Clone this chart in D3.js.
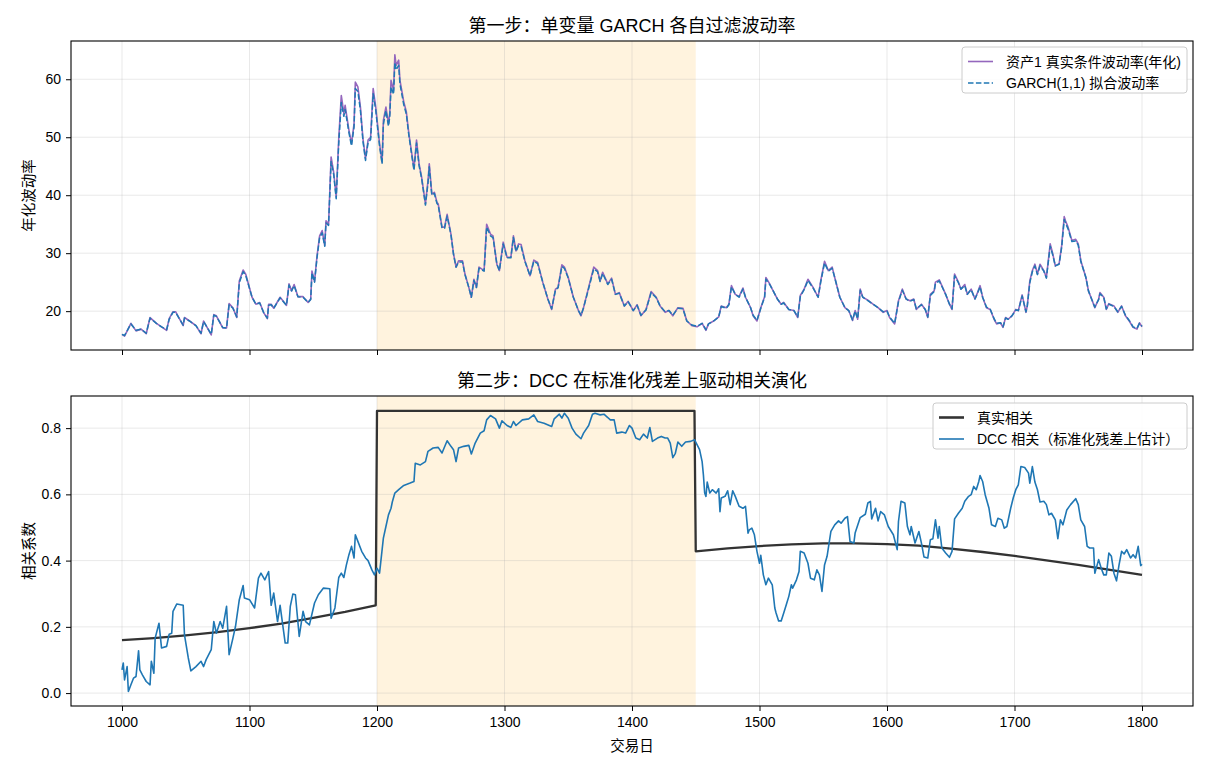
<html>
<head>
<meta charset="utf-8">
<script src="https://d3js.org/d3.v7.min.js"></script>
<style>
  body { margin: 0; background: #fff; }
  svg text { font-family: "Liberation Sans", "Noto Sans CJK SC", sans-serif; fill: #000; }
</style>
</head>
<body>
<svg id="chart" width="1210" height="770"></svg>
<script>
// ---- data ----
const volDays = [
  1000,1002,1007,1011,1015,1019,1022,1027,1031,1035,
  1037,1040,1042,1048,1049,1053,1058,1062,1064,1070,
  1072,1074,1079,1082,1084,1087,1090,1092,1095,1097,
  1102,1105,1108,1111,1114,1115,1117,1119,1124,1129,
  1131,1133,1135,1138,1142,1146,1148,1149,1151,1153,
  1155,1157,1159,1160,1162,1164,1166,1168,1170,1172,
  1174,1175,1178,1180,1182,1183,1185,1187,1189,1191,
  1193,1195,1197,1199,1202,1204,1205,1207,1209,1210,
  1211,1213,1214,1215,1217,1218,1221,1223,1225,1229,
  1231,1233,1235,1238,1240,1241,1243,1245,1247,1248,
  1251,1253,1255,1258,1260,1262,1264,1267,1269,1272,
  1274,1276,1278,1280,1284,1286,1289,1291,1294,1296,
  1299,1302,1305,1307,1309,1311,1313,1316,1320,1323,
  1326,1330,1334,1337,1340,1342,1345,1347,1350,1354,
  1358,1360,1362,1366,1370,1373,1375,1377,1381,1384,
  1387,1390,1394,1397,1401,1404,1407,1411,1415,1419,
  1422,1426,1429,1432,1436,1440,1443,1447,1451,1455,
  1458,1460,1464,1468,1470,1474,1476,1478,1481,1484,
  1487,1489,1493,1495,1498,1501,1504,1505,1508,1510,
  1514,1517,1519,1523,1527,1530,1532,1535,1538,1542,
  1546,1548,1551,1554,1557,1559,1563,1567,1570,1573,
  1575,1577,1579,1581,1585,1589,1593,1597,1600,1602,
  1606,1609,1612,1615,1618,1621,1623,1627,1630,1632,
  1634,1637,1638,1641,1643,1646,1649,1651,1653,1656,
  1658,1661,1663,1666,1669,1671,1673,1675,1678,1681,
  1684,1686,1689,1691,1693,1695,1698,1701,1703,1706,
  1709,1710,1712,1714,1716,1718,1720,1723,1725,1728,
  1730,1732,1735,1737,1739,1740,1742,1745,1748,1750,
  1752,1756,1758,1761,1763,1766,1767,1770,1772,1774,
  1778,1781,1784,1787,1790,1793,1796,1798,1800
];
const volTrue = [
  16.0,15.7,17.9,16.6,16.9,16.1,18.9,17.9,17.3,16.7,
  18.7,19.9,19.9,17.5,18.9,18.3,17.5,16.1,18.3,15.9,
  19.4,19.2,17.1,17.1,21.3,20.6,18.9,25.2,27.1,26.4,
  22.4,21.2,21.5,19.8,18.7,21.2,21.2,20.5,22.4,21.0,
  24.7,23.5,24.6,22.5,22.5,21.5,22.1,26.9,25.1,29.6,
  33.0,33.9,31.3,35.6,35.0,46.6,44.0,39.7,49.8,57.2,
  54.1,55.5,51.2,48.9,52.3,59.5,58.7,55.2,49.7,46.3,
  49.5,50.0,58.4,55.2,48.9,45.7,52.9,55.2,52.3,54.1,
  59.8,58.1,64.2,62.4,63.3,59.8,56.1,54.4,50.6,44.6,
  49.5,45.4,43.1,38.5,42.5,45.4,40.2,40.5,38.8,38.5,
  34.5,34.5,36.7,33.3,29.9,27.6,28.7,28.7,26.4,24.1,
  22.4,25.5,24.1,27.6,27.0,35.0,33.3,33.0,28.1,27.0,
  31.9,29.3,29.3,33.0,30.4,31.6,31.5,28.7,26.1,28.8,
  28.4,25.0,22.1,20.3,23.8,24.1,28.0,27.6,25.8,22.4,
  20.1,19.2,20.6,24.1,27.6,27.0,25.2,26.7,24.7,25.7,
  22.9,23.2,20.9,21.7,20.1,21.1,19.2,20.3,23.4,22.4,
  20.9,19.8,20.1,19.2,20.6,20.5,18.3,17.5,17.3,17.9,
  16.7,17.8,18.3,19.0,20.9,20.6,21.2,24.4,22.9,22.5,
  24.0,22.4,20.6,19.2,18.3,20.6,22.5,25.8,24.7,23.8,
  22.1,21.2,21.5,20.3,20.1,18.9,22.7,23.8,25.5,24.1,
  22.4,25.2,28.6,27.0,27.6,25.8,22.4,20.6,20.1,18.4,
  20.1,18.6,23.8,22.4,21.9,21.2,20.6,19.8,20.1,18.9,
  17.8,21.8,23.8,22.1,21.8,22.1,20.3,21.2,20.3,18.9,
  22.9,23.5,25.0,25.4,24.4,22.9,21.2,20.3,26.4,25.0,
  23.8,24.6,22.9,23.8,22.1,23.2,24.4,22.4,20.6,20.3,
  18.6,17.8,18.0,17.2,18.9,18.6,19.2,20.3,20.1,22.8,
  19.8,20.9,25.2,27.0,28.1,26.4,28.1,27.0,25.8,31.6,
  29.9,27.8,28.2,31.3,36.3,35.6,34.5,32.2,32.4,31.6,
  28.7,25.8,23.5,21.8,20.6,22.1,23.2,22.4,20.3,21.3,
  20.9,19.8,20.9,19.2,18.3,17.2,16.9,18.0,17.3
];
const volGarch = [
  16.0,15.8,17.8,16.7,16.9,16.2,18.8,17.9,17.3,16.8,
  18.6,19.8,19.8,17.6,18.8,18.3,17.5,16.2,18.2,16.0,
  19.3,19.1,17.2,17.1,21.1,20.5,19.0,24.9,26.8,26.2,
  22.4,21.2,21.4,19.8,18.8,21.0,21.1,20.5,22.3,21.0,
  24.5,23.5,24.4,22.5,22.4,21.5,22.0,26.6,25.0,29.3,
  32.7,33.5,31.2,35.2,34.8,45.8,43.6,39.4,49.0,56.0,
  53.6,54.8,50.8,48.5,51.8,58.4,57.9,54.6,49.3,46.0,
  49.1,49.6,57.5,54.7,48.5,45.4,52.2,54.6,51.9,53.5,
  58.7,57.4,62.9,61.6,62.4,59.2,55.6,54.0,50.3,44.3,
  49.0,45.1,42.9,38.3,42.1,44.9,40.0,40.3,38.6,38.3,
  34.3,34.3,36.4,33.2,29.8,27.6,28.5,28.5,26.3,24.1,
  22.4,25.3,24.1,27.4,26.9,34.5,33.0,32.7,28.1,27.0,
  31.6,29.2,29.2,32.7,30.3,31.3,31.2,28.6,26.1,28.6,
  28.2,25.0,22.1,20.4,23.7,24.0,27.7,27.4,25.7,22.4,
  20.1,19.3,20.6,23.9,27.3,26.8,25.1,26.5,24.6,25.5,
  22.9,23.1,20.9,21.6,20.1,21.0,19.3,20.2,23.2,22.3,
  20.9,19.9,20.1,19.3,20.5,20.4,18.3,17.6,17.4,17.9,
  16.8,17.8,18.3,19.0,20.8,20.5,21.1,24.2,22.9,22.4,
  23.8,22.4,20.6,19.3,18.4,20.5,22.4,25.5,24.6,23.8,
  22.1,21.2,21.4,20.3,20.1,19.0,22.5,23.7,25.3,24.0,
  22.4,25.0,28.3,26.9,27.4,25.8,22.4,20.6,20.1,18.5,
  20.0,18.7,23.6,22.4,21.8,21.2,20.6,19.9,20.0,19.0,
  17.9,21.6,23.6,22.1,21.7,22.0,20.4,21.1,20.3,19.0,
  22.7,23.4,24.8,25.2,24.3,22.9,21.2,20.4,26.1,24.9,
  23.8,24.4,22.9,23.7,22.1,23.1,24.2,22.4,20.7,20.3,
  18.7,17.9,18.0,17.3,18.8,18.6,19.2,20.2,20.1,22.6,
  19.9,20.8,24.9,26.8,27.8,26.3,27.8,26.9,25.7,31.2,
  29.7,27.8,28.1,31.0,35.8,35.2,34.2,32.0,32.1,31.4,
  28.6,25.8,23.5,21.8,20.7,22.0,23.0,22.4,20.4,21.2,
  20.8,19.9,20.8,19.3,18.4,17.3,17.0,17.9,17.4
];

const dccDays = [
  1000,1001,1002,1004,1005,1007,1009,1011,1013,1014,
  1016,1019,1022,1023,1025,1026,1029,1031,1035,1037,
  1039,1040,1043,1048,1049,1052,1054,1058,1062,1064,
  1066,1070,1072,1074,1077,1079,1082,1084,1087,1089,
  1092,1095,1096,1100,1104,1107,1109,1112,1115,1117,
  1119,1122,1124,1128,1130,1132,1134,1136,1139,1142,
  1144,1147,1151,1154,1158,1163,1164,1167,1170,1172,
  1174,1176,1178,1180,1182,1183,1185,1188,1191,1193,
  1196,1198,1200,1202,1205,1207,1209,1211,1212,1214,
  1217,1221,1226,1229,1230,1234,1238,1240,1244,1248,
  1251,1255,1258,1260,1262,1264,1268,1272,1274,1277,
  1281,1284,1286,1289,1293,1296,1298,1302,1305,1307,
  1309,1314,1319,1323,1326,1331,1337,1339,1343,1345,
  1347,1350,1353,1356,1360,1362,1366,1369,1371,1375,
  1378,1381,1383,1386,1388,1392,1395,1398,1400,1403,
  1406,1409,1412,1414,1416,1420,1423,1426,1428,1430,
  1432,1434,1436,1439,1442,1446,1449,1451,1453,1455,
  1456,1457,1458,1459,1461,1463,1466,1468,1469,1470,
  1473,1475,1477,1479,1481,1484,1487,1489,1491,1492,
  1494,1496,1498,1500,1501,1503,1505,1507,1510,1512,
  1513,1515,1517,1519,1521,1523,1525,1526,1529,1531,
  1532,1535,1538,1540,1543,1545,1547,1549,1551,1553,
  1556,1559,1562,1564,1567,1569,1571,1574,1575,1579,
  1583,1585,1587,1588,1591,1593,1595,1598,1601,1605,
  1608,1609,1611,1614,1616,1618,1619,1622,1625,1627,
  1629,1632,1634,1636,1638,1640,1641,1643,1646,1649,
  1651,1653,1656,1659,1661,1664,1666,1668,1670,1672,
  1673,1675,1677,1680,1682,1685,1687,1690,1692,1694,
  1697,1699,1701,1703,1705,1708,1711,1712,1714,1716,
  1718,1720,1723,1725,1727,1729,1732,1734,1736,1738,
  1741,1744,1748,1750,1752,1755,1757,1759,1762,1763,
  1766,1768,1770,1772,1774,1776,1778,1780,1782,1784,
  1786,1788,1791,1793,1795,1797,1799,1800
];
const dccCorr = [
  0.070,0.091,0.040,0.080,0.005,0.025,0.045,0.050,0.128,0.070,
  0.055,0.035,0.025,0.096,0.060,0.166,0.211,0.136,0.141,0.178,
  0.181,0.247,0.269,0.265,0.176,0.106,0.067,0.080,0.096,0.080,
  0.101,0.131,0.216,0.181,0.216,0.196,0.262,0.116,0.166,0.201,
  0.282,0.325,0.287,0.282,0.257,0.347,0.362,0.342,0.367,0.265,
  0.302,0.216,0.265,0.151,0.151,0.262,0.299,0.297,0.171,0.247,
  0.216,0.206,0.272,0.297,0.317,0.315,0.226,0.257,0.349,0.362,
  0.349,0.387,0.418,0.443,0.408,0.478,0.458,0.428,0.408,0.400,
  0.372,0.357,0.377,0.362,0.468,0.503,0.538,0.558,0.577,0.604,
  0.614,0.627,0.634,0.639,0.694,0.689,0.699,0.730,0.740,0.742,
  0.725,0.762,0.745,0.735,0.699,0.740,0.745,0.748,0.722,0.755,
  0.785,0.792,0.825,0.838,0.828,0.800,0.822,0.808,0.802,0.820,
  0.808,0.825,0.828,0.840,0.820,0.815,0.805,0.828,0.842,0.830,
  0.845,0.830,0.800,0.782,0.768,0.785,0.808,0.842,0.845,0.840,
  0.842,0.832,0.825,0.825,0.785,0.788,0.785,0.808,0.800,0.770,
  0.765,0.782,0.770,0.802,0.760,0.770,0.775,0.770,0.770,0.755,
  0.711,0.724,0.758,0.745,0.758,0.760,0.765,0.750,0.735,0.699,
  0.659,0.604,0.594,0.637,0.604,0.614,0.604,0.617,0.548,0.589,
  0.594,0.611,0.569,0.611,0.594,0.564,0.558,0.564,0.483,0.493,
  0.498,0.478,0.428,0.392,0.416,0.357,0.327,0.347,0.327,0.257,
  0.242,0.218,0.218,0.242,0.267,0.292,0.327,0.317,0.342,0.367,
  0.428,0.423,0.392,0.347,0.342,0.372,0.357,0.307,0.387,0.413,
  0.488,0.508,0.520,0.513,0.528,0.533,0.458,0.453,0.483,0.530,
  0.540,0.574,0.579,0.526,0.558,0.520,0.548,0.538,0.503,0.478,
  0.433,0.518,0.579,0.574,0.503,0.478,0.503,0.453,0.488,0.453,
  0.411,0.408,0.463,0.466,0.523,0.468,0.503,0.438,0.423,0.410,
  0.428,0.526,0.543,0.558,0.579,0.594,0.599,0.624,0.614,0.639,
  0.657,0.639,0.599,0.558,0.508,0.503,0.528,0.523,0.498,0.503,
  0.558,0.589,0.614,0.629,0.684,0.681,0.664,0.634,0.684,0.637,
  0.614,0.577,0.579,0.569,0.538,0.543,0.523,0.466,0.523,0.508,
  0.553,0.569,0.587,0.569,0.523,0.503,0.443,0.438,0.438,0.362,
  0.403,0.377,0.357,0.357,0.423,0.413,0.362,0.339,0.387,0.428,
  0.420,0.433,0.408,0.418,0.408,0.443,0.385,0.389
];

const trueDays = [1000,1025,1050,1075,1100,1125,1150,1175,1199,1200,1449,1450,1475,1500,1525,1550,1575,1600,1625,1650,1675,1700,1725,1750,1775,1800];
const trueCorr = [0.160,0.166,0.174,0.184,0.196,0.210,0.227,0.245,0.265,0.852,0.852,0.428,0.437,0.444,0.449,0.452,0.452,0.450,0.445,0.436,0.426,0.414,0.401,0.387,0.372,0.357];

const crisis = [1200, 1450];
const xTicks = [1000,1100,1200,1300,1400,1500,1600,1700,1800];
const volTicks = [20,30,40,50,60];
const corrTicks = [0.0,0.2,0.4,0.6,0.8];

// ---- layout ----
const svg = d3.select("#chart");
const left = 71, right = 1193;
const x = d3.scaleLinear().domain([960, 1840]).range([left, right]);
const yTop = d3.scaleLinear().domain([13.3, 66.6]).range([350, 41]);
const yBot = d3.scaleLinear().domain([-0.039, 0.897]).range([706, 396]);

function panel(y, ticks, fmt, title, ylabel, showX) {
  const g = svg.append("g");
  const [y0, y1] = y.range();
  // crisis window shading
  g.append("rect")
    .attr("x", x(crisis[0])).attr("width", x(crisis[1]) - x(crisis[0]))
    .attr("y", y1).attr("height", y0 - y1)
    .attr("fill", "orange").attr("fill-opacity", 0.13);
  // grid
  g.selectAll("line.gx").data(xTicks).enter().append("line")
    .attr("x1", d => x(d)).attr("x2", d => x(d)).attr("y1", y1).attr("y2", y0)
    .attr("stroke", "#b0b0b0").attr("stroke-opacity", 0.35).attr("stroke-width", 0.8);
  g.selectAll("line.gy").data(ticks).enter().append("line")
    .attr("x1", left).attr("x2", right).attr("y1", d => y(d)).attr("y2", d => y(d))
    .attr("stroke", "#b0b0b0").attr("stroke-opacity", 0.35).attr("stroke-width", 0.8);
  // axes
  const ax = g.append("g").attr("transform", "translate(0," + y0 + ")")
    .call(d3.axisBottom(x).tickValues(xTicks).tickSize(5).tickPadding(6)
      .tickFormat(showX ? d3.format("d") : ""));
  const ay = g.append("g").attr("transform", "translate(" + left + ",0)")
    .call(d3.axisLeft(y).tickValues(ticks).tickSize(5).tickPadding(5).tickFormat(fmt));
  [ax, ay].forEach(a => {
    a.select(".domain").remove();
    a.selectAll("line").attr("stroke", "#000").attr("stroke-width", 1);
    a.selectAll("text").attr("font-size", 14).style("font-family", null);
  });
  g.append("text").attr("x", (left + right) / 2).attr("y", y1 - 9)
    .attr("text-anchor", "middle").attr("font-size", 18).text(title);
  g.append("text")
    .attr("transform", "translate(34," + (y0 + y1) / 2 + ") rotate(-90)")
    .attr("text-anchor", "middle").attr("font-size", 14.5).text(ylabel);
  return g;
}

function frame(y) {
  const [y0, y1] = y.range();
  svg.append("rect").attr("x", left).attr("y", y1)
    .attr("width", right - left).attr("height", y0 - y1)
    .attr("fill", "none").attr("stroke", "#000").attr("stroke-width", 1.1);
}

function legend(xr, ytop, w, items) {
  const g = svg.append("g");
  g.append("rect").attr("x", xr - w).attr("y", ytop).attr("width", w).attr("height", 46)
    .attr("rx", 3).attr("fill", "#fff").attr("fill-opacity", 0.85)
    .attr("stroke", "#cccccc").attr("stroke-width", 1);
  items.forEach((it, i) => {
    const cy = ytop + 14.5 + i * 21.5;
    g.append("line").attr("x1", xr - w + 6).attr("x2", xr - w + 31)
      .attr("y1", cy).attr("y2", cy)
      .attr("stroke", it.color).attr("stroke-width", it.width)
      .attr("stroke-dasharray", it.dash || null);
    g.append("text").attr("x", xr - w + 44).attr("y", cy + 5)
      .attr("font-size", 14).text(it.label);
  });
}

// ---- top panel: volatility ----
panel(yTop, volTicks, d3.format("d"), "第一步：单变量 GARCH 各自过滤波动率", "年化波动率", false);
const volLine = d3.line().x(d => x(d[0])).y(d => yTop(d[1]));
svg.append("path").datum(volDays.map((d, i) => [d, volTrue[i]]))
  .attr("d", volLine).attr("fill", "none")
  .attr("stroke", "#9467bd").attr("stroke-width", 1.6).attr("stroke-linejoin", "round");
svg.append("path").datum(volDays.map((d, i) => [d, volGarch[i]]))
  .attr("d", volLine).attr("fill", "none")
  .attr("stroke", "#1f77b4").attr("stroke-width", 1.5)
  .attr("stroke-dasharray", "5.5,2.4").attr("stroke-linejoin", "round");
frame(yTop);
legend(1187, 47, 225, [
  {label: "资产1 真实条件波动率(年化)", color: "#9467bd", width: 1.6},
  {label: "GARCH(1,1) 拟合波动率", color: "#1f77b4", width: 1.5, dash: "5.5,2.4"}
]);

// ---- bottom panel: correlation ----
panel(yBot, corrTicks, d3.format(".1f"), "第二步：DCC 在标准化残差上驱动相关演化", "相关系数", true);
const corrLine = d3.line().x(d => x(d[0])).y(d => yBot(d[1]));
svg.append("path").datum(trueDays.map((d, i) => [d, trueCorr[i]]))
  .attr("d", corrLine).attr("fill", "none")
  .attr("stroke", "#333333").attr("stroke-width", 2.3).attr("stroke-linejoin", "round");
svg.append("path").datum(dccDays.map((d, i) => [d, dccCorr[i]]))
  .attr("d", corrLine).attr("fill", "none")
  .attr("stroke", "#1f77b4").attr("stroke-width", 1.6).attr("stroke-linejoin", "round");
frame(yBot);
legend(1187, 403, 254, [
  {label: "真实相关", color: "#333333", width: 2.6},
  {label: "DCC 相关（标准化残差上估计）", color: "#1f77b4", width: 1.6}
]);

svg.append("text").attr("x", (left + right) / 2).attr("y", 751)
  .attr("text-anchor", "middle").attr("font-size", 14.5).text("交易日");
</script>
</body>
</html>
